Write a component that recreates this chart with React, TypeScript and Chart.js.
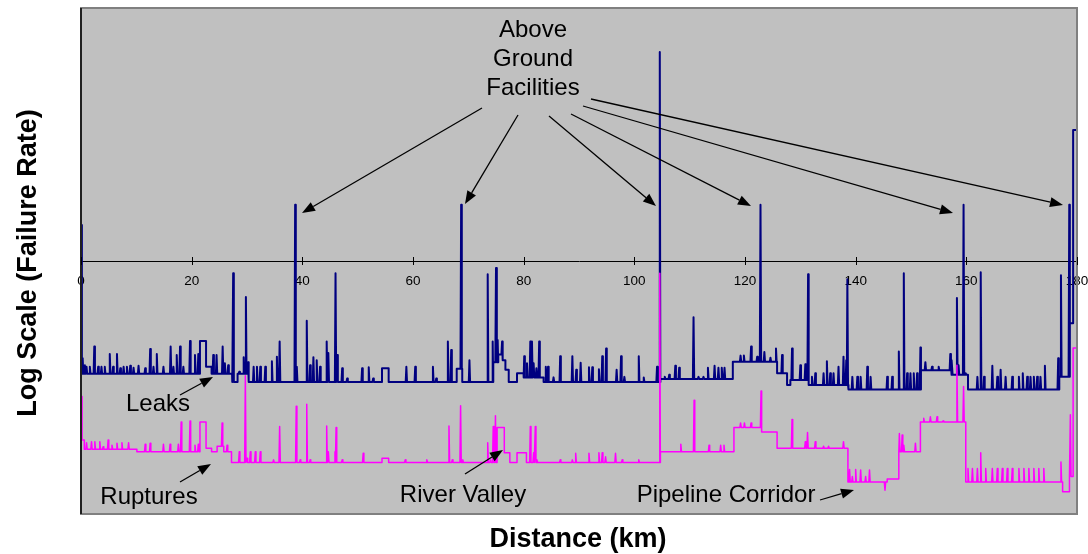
import React, { useEffect, useRef } from 'react';
import { Chart, registerables } from 'chart.js';

Chart.register(...registerables);

// ---- Axis settings (distance in km, failure rate in log units 0..100) ----
const X_MIN = 0;
const X_MAX = 180;
const X_STEP = 20;
const Y_MIN = 0;
const Y_MAX = 100;
const AXIS_CROSS = 50;

// ---- Leaks: step levels [km, value] and narrow spikes [km, peak] ----
const leakLevels: [number, number][] = [
  [0, 57.1], [0.15, 27.7], [21.5, 34.2], [22.6, 29.1], [23.6, 27.7], [27.3, 26.1], [28.3, 27.7],
  [30.3, 26.1], [54.4, 28.8], [55.6, 26.1], [67.9, 28.7], [68.9, 26.1], [74.5, 30.0], [75.4, 31.5],
  [76.2, 30.4], [76.7, 28.5], [77.3, 26.1], [78.8, 27.8], [80.0, 27.0], [83.6, 26.1], [104.7, 26.7],
  [117.8, 30.1], [125.8, 27.8], [127.6, 25.5], [128.2, 26.5], [131.5, 25.5], [138.7, 24.6],
  [151.8, 28.4], [157.3, 27.5], [160.3, 24.6], [176.8, 27.1], [178.7, 37.7], [179.3, 75.9],
];

const leakSpikes: [number, number][] = [
  [0.3, 30.8], [0.7, 29.4], [1.0, 29.1], [1.6, 29.1], [2.4, 33.1], [3.1, 29.1], [3.7, 29.1], [4.3, 29.1],
  [5.2, 31.6], [5.8, 29.1], [6.5, 31.6], [7.1, 28.8], [7.7, 29.1], [8.3, 29.1], [8.9, 29.3], [9.5, 28.9],
  [10.4, 29.3], [11.6, 28.8], [12.5, 32.6], [13.1, 29.1], [13.7, 31.6], [14.9, 29.1], [16.2, 33.1],
  [16.7, 29.1], [17.3, 31.4], [17.9, 33.1], [18.5, 29.1], [19.7, 34.2], [20.6, 31.4], [21.2, 31.6],
  [23.9, 31.4], [24.5, 31.4], [25.6, 33.1], [26.0, 29.8], [26.6, 29.4], [27.5, 47.6], [28.6, 28.1],
  [29.4, 31.0], [29.8, 42.9], [30.2, 30.0], [31.2, 29.1], [31.8, 29.1], [32.4, 29.1], [33.3, 29.1],
  [34.5, 30.2], [35.4, 31.1], [35.9, 34.1], [38.7, 61.1], [39.0, 29.1], [40.8, 38.2], [41.4, 29.4],
  [42.0, 31.0], [42.6, 30.4], [43.2, 29.1], [44.4, 34.1], [44.7, 31.8], [46.0, 47.6], [46.3, 31.4],
  [47.2, 28.8], [48.1, 26.8], [50.8, 28.8], [52.0, 29.0], [52.8, 26.8], [58.8, 29.1], [60.4, 29.1],
  [63.6, 29.1], [64.2, 26.8], [66.3, 34.1], [66.9, 32.4], [68.7, 61.1], [70.2, 30.4], [73.5, 47.4],
  [74.4, 34.1], [75.0, 48.6], [75.3, 34.4], [76.1, 34.1], [80.1, 31.2], [80.6, 29.8], [81.2, 34.1],
  [81.5, 34.1], [81.8, 29.8], [82.3, 28.8], [82.8, 34.1], [84.0, 29.1], [84.4, 29.1], [85.4, 27.0],
  [86.6, 31.2], [88.8, 31.2], [89.5, 28.5], [90.3, 29.9], [91.8, 29.0], [92.4, 29.0], [93.6, 28.6],
  [94.2, 31.2], [94.9, 32.7], [96.8, 28.5], [97.6, 31.2], [98.2, 27.1], [100.8, 31.2], [101.7, 27.0],
  [104.1, 29.1], [104.6, 91.3], [105.5, 27.1], [106.3, 27.5], [107.4, 29.3], [108.1, 28.9], [110.7, 38.9],
  [111.6, 27.1], [112.5, 27.1], [113.3, 28.9], [114.5, 29.3], [115.2, 28.9], [115.8, 28.9], [116.3, 28.9],
  [119.2, 31.3], [119.8, 31.3], [121.1, 33.1], [122.2, 31.1], [122.8, 61.1], [123.5, 32.0], [124.6, 30.9],
  [125.6, 32.7], [126.7, 31.4], [128.5, 32.7], [130.0, 29.4], [130.9, 29.6], [131.4, 47.4], [132.1, 27.1],
  [132.7, 27.8], [134.2, 27.8], [134.8, 30.2], [135.4, 27.8], [136.0, 27.8], [136.9, 29.1], [137.8, 31.1],
  [138.3, 30.4], [138.5, 46.4], [139.4, 27.1], [140.3, 27.1], [140.9, 27.1], [142.1, 29.1], [142.7, 27.1],
  [145.7, 27.1], [146.6, 27.1], [147.8, 32.1], [148.7, 47.6], [149.3, 27.8], [149.9, 27.8], [150.5, 27.8],
  [151.1, 27.8], [151.7, 32.9], [152.6, 30.0], [153.8, 29.1], [155.0, 29.1], [157.1, 31.6], [157.4, 30.4],
  [158.3, 42.7], [158.6, 29.4], [159.5, 61.1], [159.9, 27.8], [162.0, 27.1], [162.6, 47.8], [163.2, 27.1],
  [164.7, 29.3], [165.6, 27.1], [166.2, 28.5], [167.1, 27.1], [168.3, 27.1], [169.5, 27.1], [170.2, 27.8],
  [171.0, 27.1], [171.6, 27.1], [172.2, 27.1], [172.8, 27.1], [173.4, 27.1], [174.2, 29.3], [176.6, 30.8],
  [177.1, 47.2], [178.6, 61.1],
];

// ---- Ruptures: step levels [km, value] and narrow spikes [km, peak] ----
const ruptureLevels: [number, number][] = [
  [0, 23.2], [0.2, 14.6], [0.6, 12.8], [10.1, 12.3], [21.5, 18.2], [22.6, 13.0], [23.6, 12.3],
  [24.6, 13.4], [25.8, 12.3], [27.2, 10.2], [54.4, 11.0], [55.6, 10.2], [75.2, 17.1], [76.5, 12.1],
  [77.5, 10.2], [78.8, 12.1], [80.5, 10.2], [104.7, 12.3], [118.0, 17.1], [123.0, 16.2], [125.8, 13.0],
  [138.6, 6.3], [145.7, 6.9], [147.8, 12.3], [151.7, 18.2], [159.9, 6.3], [177.4, 4.4], [178.6, 7.4],
  [179.3, 32.8],
];

const ruptureSpikes: [number, number][] = [
  [1.0, 14.1], [1.9, 14.3], [2.5, 14.3], [3.4, 14.3], [4.0, 13.3], [4.9, 14.6], [5.6, 13.6], [6.5, 14.0],
  [7.4, 14.1], [8.6, 14.1], [11.6, 13.8], [12.5, 14.0], [14.9, 13.8], [16.1, 13.8], [17.6, 13.8],
  [18.1, 18.2], [19.7, 18.4], [20.6, 13.6], [21.2, 13.8], [25.5, 18.0], [26.4, 13.6], [28.6, 12.3],
  [29.7, 27.3], [30.0, 11.0], [30.6, 12.3], [31.5, 12.3], [32.4, 12.3], [34.8, 10.7], [35.9, 17.3],
  [38.9, 21.3], [39.6, 10.7], [40.8, 21.7], [41.4, 10.7], [44.4, 17.4], [44.7, 12.3], [45.9, 12.3],
  [46.1, 17.1], [47.2, 10.7], [51.0, 12.0], [58.6, 10.7], [62.5, 10.7], [66.5, 17.4], [67.1, 10.7],
  [68.6, 21.4], [69.0, 10.7], [73.5, 14.1], [74.0, 10.7], [74.5, 17.3], [74.9, 19.4], [81.2, 17.3],
  [81.8, 12.1], [82.1, 17.3], [82.4, 10.7], [86.6, 10.7], [88.8, 10.7], [89.4, 12.0], [91.8, 12.0],
  [93.6, 12.1], [94.2, 12.1], [94.8, 11.3], [96.6, 12.0], [97.8, 10.7], [100.8, 10.7], [104.6, 47.6],
  [108.4, 13.8], [110.8, 22.5], [113.5, 13.6], [115.6, 13.6], [116.2, 13.6], [119.2, 18.0], [119.9, 18.0],
  [121.1, 18.0], [122.9, 24.3], [128.5, 18.7], [130.9, 14.3], [131.3, 16.1], [132.7, 14.3], [134.2, 13.4],
  [135.1, 13.4], [137.8, 14.3], [138.9, 8.8], [139.4, 7.4], [140.0, 8.8], [140.9, 8.7], [141.8, 7.4],
  [142.5, 8.7], [145.3, 4.7], [147.9, 15.9], [148.4, 15.6], [148.7, 13.6], [150.8, 14.0], [152.3, 18.9],
  [153.5, 19.2], [154.7, 19.2], [155.8, 18.4], [158.3, 29.4], [159.5, 25.2], [160.3, 9.0], [161.1, 9.0],
  [162.0, 9.0], [162.6, 12.1], [163.5, 9.0], [164.7, 9.0], [165.6, 9.0], [166.5, 9.0], [167.4, 9.0],
  [168.3, 9.0], [169.5, 9.0], [170.4, 9.0], [171.3, 9.0], [172.2, 9.0], [173.1, 9.0], [174.0, 9.0],
  [177.1, 10.3], [178.8, 19.6],
];

const SPIKE_HALF = 0.12;
const FONT = '"Liberation Sans", Arial, Helvetica, sans-serif';

function levelAt(levels: [number, number][], x: number): number {
  let v = levels[0][1];
  for (const [k, y] of levels) if (k <= x) v = y;
  return v;
}

function buildSeries(levels: [number, number][], spikes: [number, number][]) {
  const pts: { x: number; y: number; o: number }[] = [];
  pts.push({ x: levels[0][0], y: levels[0][1], o: 0 });
  for (let i = 1; i < levels.length; i++) {
    pts.push({ x: levels[i][0], y: levels[i - 1][1], o: 0 });
    pts.push({ x: levels[i][0], y: levels[i][1], o: 1 });
  }
  for (const [s, peak] of spikes) {
    pts.push({ x: s - SPIKE_HALF, y: levelAt(levels, s - SPIKE_HALF), o: 2 });
    pts.push({ x: s, y: peak, o: 2 });
    pts.push({ x: s + SPIKE_HALF, y: levelAt(levels, s + SPIKE_HALF), o: 2 });
  }
  pts.push({ x: X_MAX, y: levelAt(levels, X_MAX), o: 3 });
  pts.sort((a, b) => a.x - b.x || a.o - b.o);
  return pts.map(({ x, y }) => ({ x, y }));
}

function drawArrow(ctx: CanvasRenderingContext2D, x1: number, y1: number, x2: number, y2: number) {
  const ang = Math.atan2(y2 - y1, x2 - x1);
  const len = 13;
  const hw = 5;
  const bx = x2 - len * Math.cos(ang);
  const by = y2 - len * Math.sin(ang);
  ctx.beginPath();
  ctx.moveTo(x1, y1);
  ctx.lineTo(bx, by);
  ctx.stroke();
  ctx.beginPath();
  ctx.moveTo(x2, y2);
  ctx.lineTo(bx + hw * Math.sin(ang), by - hw * Math.cos(ang));
  ctx.lineTo(bx - hw * Math.sin(ang), by + hw * Math.cos(ang));
  ctx.closePath();
  ctx.fill();
}

const decorPlugin = {
  id: 'decor',
  beforeDraw(chart: any) {
    const { ctx, chartArea: a } = chart;
    const xs = chart.scales.x;
    const ys = chart.scales.y;
    ctx.save();
    ctx.fillStyle = '#ffffff';
    ctx.fillRect(0, 0, chart.width, chart.height);
    ctx.fillStyle = '#C0C0C0';
    ctx.fillRect(a.left, a.top, a.right - a.left, a.bottom - a.top);
    // tick labels under the central axis
    const ay = ys.getPixelForValue(AXIS_CROSS);
    ctx.fillStyle = '#000000';
    ctx.font = `13.5px ${FONT}`;
    ctx.textAlign = 'center';
    ctx.textBaseline = 'middle';
    for (let t = X_MIN; t <= X_MAX; t += X_STEP) {
      ctx.fillText(String(t), xs.getPixelForValue(t), ay + 20.5);
    }
    ctx.restore();
  },
  afterDraw(chart: any) {
    const { ctx, chartArea: a } = chart;
    const xs = chart.scales.x;
    const ys = chart.scales.y;
    ctx.save();
    // plot frame
    ctx.strokeStyle = '#808080';
    ctx.lineWidth = 2;
    ctx.strokeRect(a.left, a.top, a.right - a.left, a.bottom - a.top);
    ctx.strokeStyle = '#000000';
    ctx.lineWidth = 1.5;
    ctx.beginPath();
    ctx.moveTo(a.left, a.top);
    ctx.lineTo(a.left, a.bottom);
    ctx.stroke();
    // cross tick marks on the central axis
    const ay = ys.getPixelForValue(AXIS_CROSS);
    ctx.strokeStyle = '#000000';
    ctx.lineWidth = 1;
    for (let t = X_MIN; t <= X_MAX; t += X_STEP) {
      const px = Math.round(xs.getPixelForValue(t)) + 0.5;
      ctx.beginPath();
      ctx.moveTo(px, ay - 4);
      ctx.lineTo(px, ay + 4);
      ctx.stroke();
    }
    // annotations
    ctx.fillStyle = '#000000';
    ctx.textAlign = 'center';
    ctx.textBaseline = 'middle';
    ctx.font = `24px ${FONT}`;
    ctx.fillText('Above', 533, 30);
    ctx.fillText('Ground', 533, 59);
    ctx.fillText('Facilities', 533, 88);
    ctx.fillText('Leaks', 158, 404);
    ctx.fillText('Ruptures', 149, 497);
    ctx.fillText('River Valley', 463, 495);
    ctx.fillText('Pipeline Corridor', 726, 495);
    ctx.strokeStyle = '#000000';
    ctx.lineWidth = 1.3;
    drawArrow(ctx, 482, 108, 302, 213);
    drawArrow(ctx, 518, 115, 465, 204);
    drawArrow(ctx, 549, 116, 656, 206);
    drawArrow(ctx, 571, 114, 751, 206);
    drawArrow(ctx, 583, 106, 953, 213);
    drawArrow(ctx, 591, 99, 1063, 205);
    drawArrow(ctx, 180, 395, 213, 377);
    drawArrow(ctx, 180, 482, 211, 464);
    drawArrow(ctx, 465, 474, 503, 450);
    drawArrow(ctx, 820, 500, 854, 490);
    // axis titles
    ctx.font = `bold 27px ${FONT}`;
    ctx.fillText('Distance (km)', 578, 540);
    ctx.translate(29, 263);
    ctx.rotate(-Math.PI / 2);
    ctx.fillText('Log Scale (Failure Rate)', 0, 0);
    ctx.restore();
  },
};

export default function App() {
  const ref = useRef<HTMLCanvasElement>(null);
  useEffect(() => {
    if (!ref.current) return;
    const chart = new Chart(ref.current, {
      type: 'line',
      data: {
        datasets: [
          {
            label: 'Ruptures',
            data: buildSeries(ruptureLevels, ruptureSpikes),
            borderColor: '#FF00FF',
            borderWidth: 1.5,
            pointRadius: 0,
            tension: 0,
            fill: false,
            borderJoinStyle: 'round',
          },
          {
            label: 'Leaks',
            data: buildSeries(leakLevels, leakSpikes),
            borderColor: '#000080',
            borderWidth: 2,
            pointRadius: 0,
            tension: 0,
            fill: false,
            borderJoinStyle: 'round',
          },
        ],
      },
      options: {
        responsive: false,
        animation: false,
        layout: { padding: { left: 81, top: 8, right: 11, bottom: 40 } },
        plugins: { legend: { display: false }, tooltip: { enabled: false } },
        scales: {
          x: {
            type: 'linear',
            min: X_MIN,
            max: X_MAX,
            position: { y: AXIS_CROSS },
            ticks: { stepSize: X_STEP, display: false },
            grid: { display: true, drawOnChartArea: false, drawTicks: false },
            border: { display: true, color: '#000000', width: 1 },
          },
          y: { type: 'linear', min: Y_MIN, max: Y_MAX, display: false },
        },
      },
      plugins: [decorPlugin],
    } as any);
    return () => chart.destroy();
  }, []);
  return (
    <div style={{ position: 'fixed', left: 0, top: 0, width: 1088, height: 554, background: '#fff' }}>
      <canvas ref={ref} width={1088} height={554} style={{ display: 'block', width: 1088, height: 554 }} />
    </div>
  );
}
